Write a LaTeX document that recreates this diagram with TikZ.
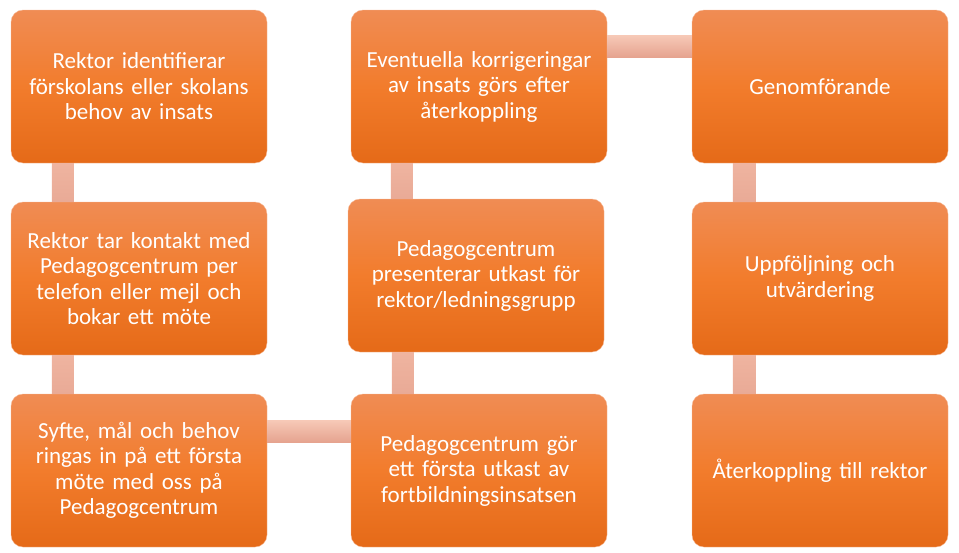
\documentclass[tikz,border=0pt]{standalone}
\usepackage{fontspec}
\setmainfont{Carlito}
\usetikzlibrary{calc}
\definecolor{boxtop}{RGB}{240,140,84}
\definecolor{boxmid}{RGB}{242,124,44}
\definecolor{boxbot}{RGB}{229,106,24}
\definecolor{conntop}{RGB}{246,200,182}
\definecolor{connbot}{RGB}{229,162,142}
\definecolor{vconn}{RGB}{239,180,160}
\definecolor{vconnb}{RGB}{233,170,150}
\begin{document}
\begin{tikzpicture}[x=1pt,y=-1pt,
  stepbox/.style={rectangle, rounded corners=12pt, minimum width=256pt, minimum height=153pt,
    inner sep=0pt, text width=250pt, align=center, text=white,
    top color=boxtop, bottom color=boxbot, middle color=boxmid,
    draw=boxtop!60!white, line width=0.4pt,
    font=\fontsize{23}{25.5}\selectfont},
  vbar/.style={top color=vconn, bottom color=vconnb},
  hbar/.style={top color=conntop, bottom color=connbot}]
\useasboundingbox (0,0) rectangle (959,552);

\coordinate (p11) at (139,86.5);
\coordinate (p12) at (139,278.5);
\coordinate (p13) at (139,470.5);
\coordinate (p21) at (479,86.5);
\coordinate (p22) at (476,275.5);
\coordinate (p23) at (479,470.5);
\coordinate (p31) at (820,86.5);
\coordinate (p32) at (820,278.5);
\coordinate (p33) at (820,470.5);

\node[stepbox] (a1) at (p11) {Rektor identifierar\\förskolans eller skolans\\behov av insats};
\node[stepbox] (a2) at (p12) {Rektor tar kontakt med\\Pedagogcentrum per\\telefon eller mejl och\\bokar ett möte};
\node[stepbox] (a3) at (p13) {Syfte, mål och behov\\ringas in på ett första\\möte med oss på\\Pedagogcentrum};
\node[stepbox] (b3) at (p23) {Pedagogcentrum gör\\ett första utkast av\\fortbildningsinsatsen};
\node[stepbox] (b2) at (p22) {Pedagogcentrum\\presenterar utkast för\\rektor/ledningsgrupp};
\node[stepbox] (b1) at (p21) {Eventuella korrigeringar\\av insats görs efter\\återkoppling};
\node[stepbox] (c1) at (p31) {Genomförande};
\node[stepbox] (c2) at (p32) {Uppföljning och\\utvärdering};
\node[stepbox] (c3) at (p33) {Återkoppling till rektor};

\shade[vbar] ($(a1.south west)+(41,0)$) rectangle ($(a2.north west)+(63,0)$);
\shade[vbar] ($(a2.south west)+(41,0)$) rectangle ($(a3.north west)+(63,0)$);
\shade[hbar] ($(a3.north east)+(0,27)$) rectangle ($(b3.north west)+(0,49)$);
\shade[vbar] ($(b2.south west)+(44,0)$) rectangle ($(b3.north west)+(63,0)$);
\shade[vbar] ($(b1.south west)+(40,0)$) rectangle ($(b2.north west)+(65,0)$);
\shade[hbar] ($(b1.north east)+(0,26)$) rectangle ($(c1.north west)+(0,48)$);
\shade[vbar] ($(c1.south west)+(41,0)$) rectangle ($(c2.north west)+(64,0)$);
\shade[vbar] ($(c2.south west)+(41,0)$) rectangle ($(c3.north west)+(64,0)$);
\end{tikzpicture}
\end{document}
